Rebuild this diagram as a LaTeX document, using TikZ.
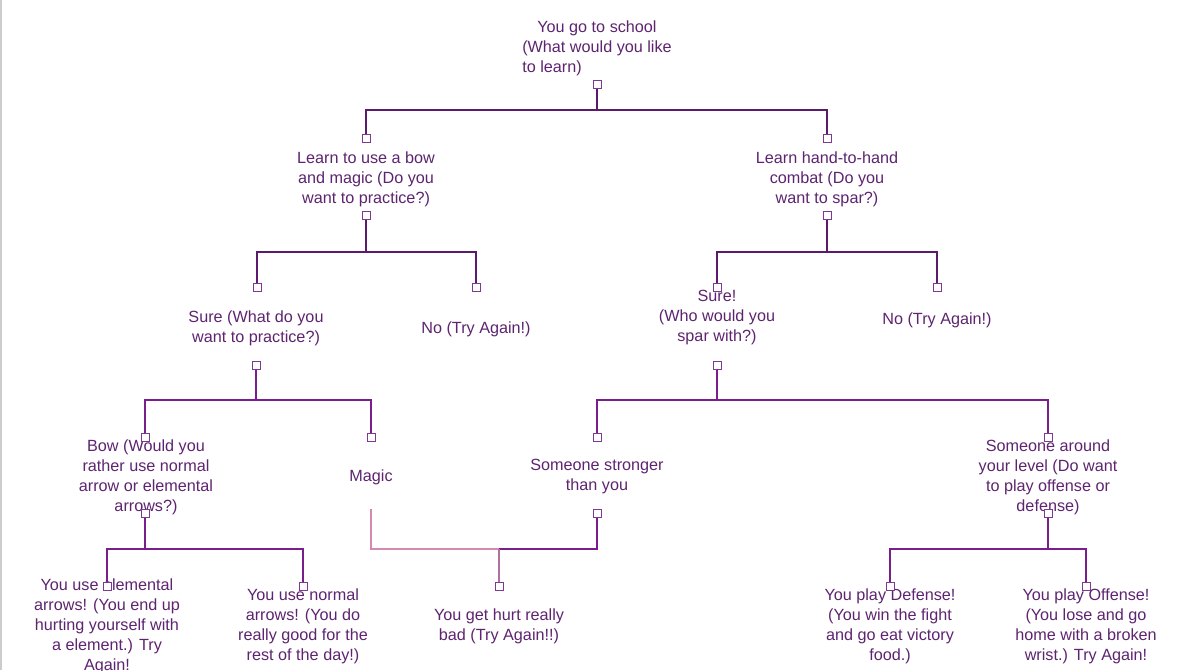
\documentclass[tikz,border=0pt]{standalone}
\usepackage{fontspec}
\usepackage{calc}
\setmainfont{Liberation Sans}
\definecolor{txt}{HTML}{5E2470}
\definecolor{lnA}{HTML}{5C1A6C}
\definecolor{lnB}{HTML}{7A1E8E}
\definecolor{sqc}{HTML}{7E3A92}
\definecolor{pinkl}{HTML}{D48AB0}
\definecolor{mixl}{HTML}{B070A0}
\begin{document}
\begin{tikzpicture}[x=1pt,y=-1pt,
  lbl/.style={inner sep=0pt,align=center,text=txt,font=\fontsize{16.2}{20}\selectfont,anchor=center,yshift=-2pt},
  sq/.style={draw=sqc,fill=white,line width=1pt,minimum size=8pt,inner sep=0pt,rectangle},
  conA/.style={draw=lnA,line width=1.2pt},
  conB/.style={draw=lnB,line width=1.2pt}]
\useasboundingbox (0,0) rectangle (1192,670);
\fill[white] (0,0) rectangle (1192,670);
\draw[black!20,line width=1.5pt] (0.75,0) -- (0.75,670);
% text nodes
\node[lbl] (root) at (597,46) {You go to school\\(What would you like\\\makebox[\widthof{(What would you like}][l]{to learn)}};
\node[lbl] (bow1) at (366,177) {Learn to use a bow\\and magic (Do you\\want to practice?)};
\node[lbl] (hand1) at (827,177) {Learn hand-to-hand\\combat (Do you\\want to spar?)};
\node[lbl] (sureL) at (256,326) {Sure (What do you\\want to practice?)};
\node[lbl] (noL) at (476,327) {No (Try Again!)};
\node[lbl] (sureR) at (717,316) {Sure!\\(Who would you\\spar with?)};
\node[lbl] (noR) at (937,318) {No (Try Again!)};
\node[lbl] (bow2) at (146,475) {Bow (Would you\\rather use normal\\arrow or elemental\\arrows?)};
\node[lbl] (magic) at (371,475) {Magic};
\node[lbl] (strong) at (597,475) {Someone stronger\\than you};
\node[lbl] (level) at (1048,475) {Someone around\\your level (Do want\\to play offense or\\defense)};
\node[lbl] (elem) at (107,624) {You use elemental\\arrows! (You end up\\hurting yourself with\\a element.) Try\\Again!};
\node[lbl] (normal) at (303,624) {You use normal\\arrows! (You do\\really good for the\\rest of the day!)};
\node[lbl] (hurt) at (499,624) {You get hurt really\\bad (Try Again!!)};
\node[lbl] (def) at (890,624) {You play Defense!\\(You win the fight\\and go eat victory\\food.)};
\node[lbl] (off) at (1086,624) {You play Offense!\\(You lose and go\\home with a broken\\wrist.) Try Again!};
% ports (small squares)
\coordinate (pRootO) at (597,84);
\coordinate (pBow1I) at (366,138);
\coordinate (pBow1O) at (366,215);
\coordinate (pHand1I) at (827,138);
\coordinate (pHand1O) at (827,215);
\coordinate (pSureLI) at (257,287);
\coordinate (pSureLO) at (256,365);
\coordinate (pNoLI) at (476,287);
\coordinate (pSureRI) at (717,287);
\coordinate (pSureRO) at (717,365);
\coordinate (pNoRI) at (937,287);
\coordinate (pBow2I) at (145,437);
\coordinate (pBow2O) at (145,513);
\coordinate (pMagicI) at (371,437);
\coordinate (pMagicO) at (371,509);
\coordinate (pStrongI) at (597,437);
\coordinate (pStrongO) at (597,513);
\coordinate (pLevelI) at (1048,437);
\coordinate (pLevelO) at (1048,513);
\coordinate (pElemI) at (107,586);
\coordinate (pNormalI) at (303,586);
\coordinate (pHurtI) at (499,586);
\coordinate (pDefI) at (890,586);
\coordinate (pOffI) at (1086,586);
% connectors
\draw[conA] (pRootO) -- ++(0,26) -| (pBow1I);
\draw[conA] (pRootO) -- ++(0,26) -| (pHand1I);
\draw[conA] (pBow1O) -- ++(0,37) -| (pSureLI);
\draw[conA] (pBow1O) -- ++(0,37) -| (pNoLI);
\draw[conA] (pHand1O) -- ++(0,37) -| (pSureRI);
\draw[conA] (pHand1O) -- ++(0,37) -| (pNoRI);
\draw[conB] (pSureLO) -- ++(0,35) -| (pBow2I);
\draw[conB] (pSureLO) -- ++(0,35) -| (pMagicI);
\draw[conB] (pSureRO) -- ++(0,35) -| (pStrongI);
\draw[conB] (pSureRO) -- ++(0,35) -| (pLevelI);
\draw[conB] (pBow2O) -- ++(0,36) -| (pElemI);
\draw[conB] (pBow2O) -- ++(0,36) -| (pNormalI);
\draw[conB] (pLevelO) -- ++(0,36) -| (pDefI);
\draw[conB] (pLevelO) -- ++(0,36) -| (pOffI);
\draw[draw=pinkl,line width=1.2pt] (pMagicO) |- (499,549);
\draw[conB] (pStrongO) |- (499,549);
\draw[draw=mixl,line width=1.8pt] (499,549) -- (pHurtI);
% squares
\foreach \p in {pRootO,pBow1I,pBow1O,pHand1I,pHand1O,pSureLI,pSureLO,pNoLI,pSureRI,pSureRO,pNoRI,pBow2I,pBow2O,pMagicI,pStrongI,pStrongO,pLevelI,pLevelO,pElemI,pNormalI,pHurtI,pDefI,pOffI}
  \node[sq] at (\p) {};
\end{tikzpicture}
\end{document}
